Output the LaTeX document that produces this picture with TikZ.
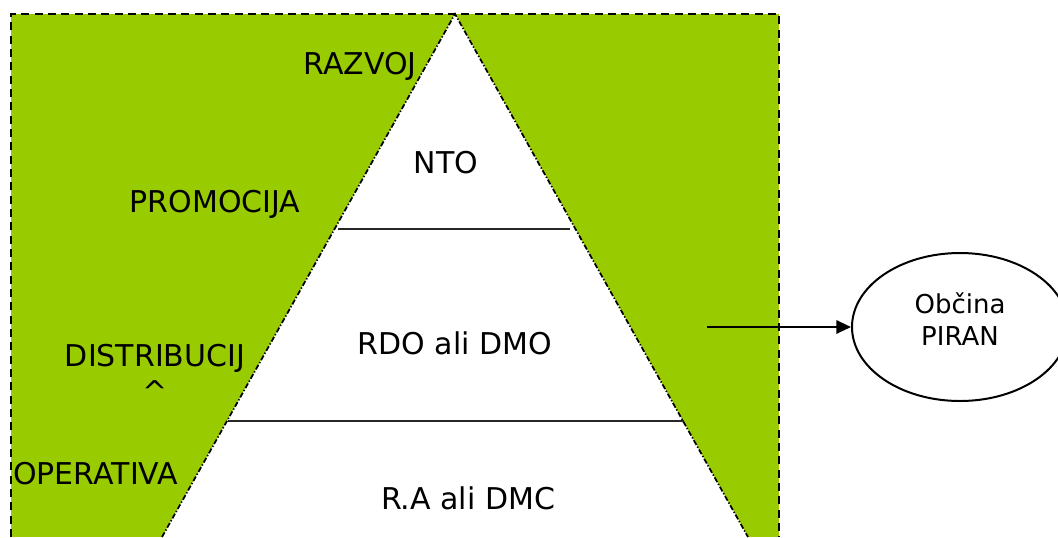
\documentclass[tikz,border=0pt]{standalone}
\usepackage{fontspec}
\setmainfont{DejaVu Sans}
\usepackage{tikz}
\usetikzlibrary{positioning,arrows.meta,shapes.geometric}
\definecolor{levelgreen}{HTML}{99CC00}
\tikzset{
  lvltext/.style={font=\fontsize{22.5}{27}\selectfont, inner sep=0pt, align=center},
  sidetext/.style={lvltext},
  framedash/.style={line width=1.7pt, dash pattern=on 6pt off 4pt},
  edgedash/.style={line width=1.3pt, dash pattern=on 4pt off 1.5pt on 1pt off 1.5pt},
  levelline/.style={line width=1.6pt, black!85},
  piranbox/.style={draw, ellipse, line width=1.5pt, minimum width=162pt, minimum height=111pt, inner sep=0pt},
  figarrow/.style={-{Triangle[length=11pt, width=10pt]}, line width=1.5pt},
}

\begin{document}
\begin{tikzpicture}[x=0.75pt, y=-0.75pt]
  \useasboundingbox (0,0) rectangle (1058,537);
  % green field with the white pyramid cut out
  \fill[levelgreen] (11,14) rectangle (779,537);
  \fill[white] (455,14) -- (162,537) -- (748,537) -- cycle;
  \draw[framedash] (11,537) -- (11,14) -- (779,14) -- (779,537);
  \draw[edgedash] (162,537) -- (455,14) -- (748,537);
  \draw[levelline] (338,229) -- (570,229);
  \draw[levelline] (228,421) -- (684,421);
  % levels
  \node[lvltext] (nto) at (446,163) {NTO};
  \node[lvltext] (rdo) at (455,343) {RDO ali DMO};
  \node[lvltext] (ra) at (468,498) {R.A ali DMC};
  % functions on the left
  \node[sidetext] (razvoj) at (360,66) {RAZVOJ};
  \node[sidetext] (promocija) at (215,204) {PROMOCIJA};
  \node[sidetext, anchor=north] (distribucija) at (155,344) {DISTRIBUCIJ\\\textasciicircum};
  \node[sidetext, anchor=west] (operativa) at (13,474) {OPERATIVA};
  % municipality
  \node[piranbox] (piran) at (960,327) {};
  \node[font=\fontsize{19.5}{24}\selectfont, align=center, inner sep=0pt] (pirantext) at ([yshift=6pt]piran.center) {Občina\\PIRAN};
  \coordinate (arrowstart) at (707,327);
  \draw[figarrow] (arrowstart) -- (piran.west);
\end{tikzpicture}
\end{document}
